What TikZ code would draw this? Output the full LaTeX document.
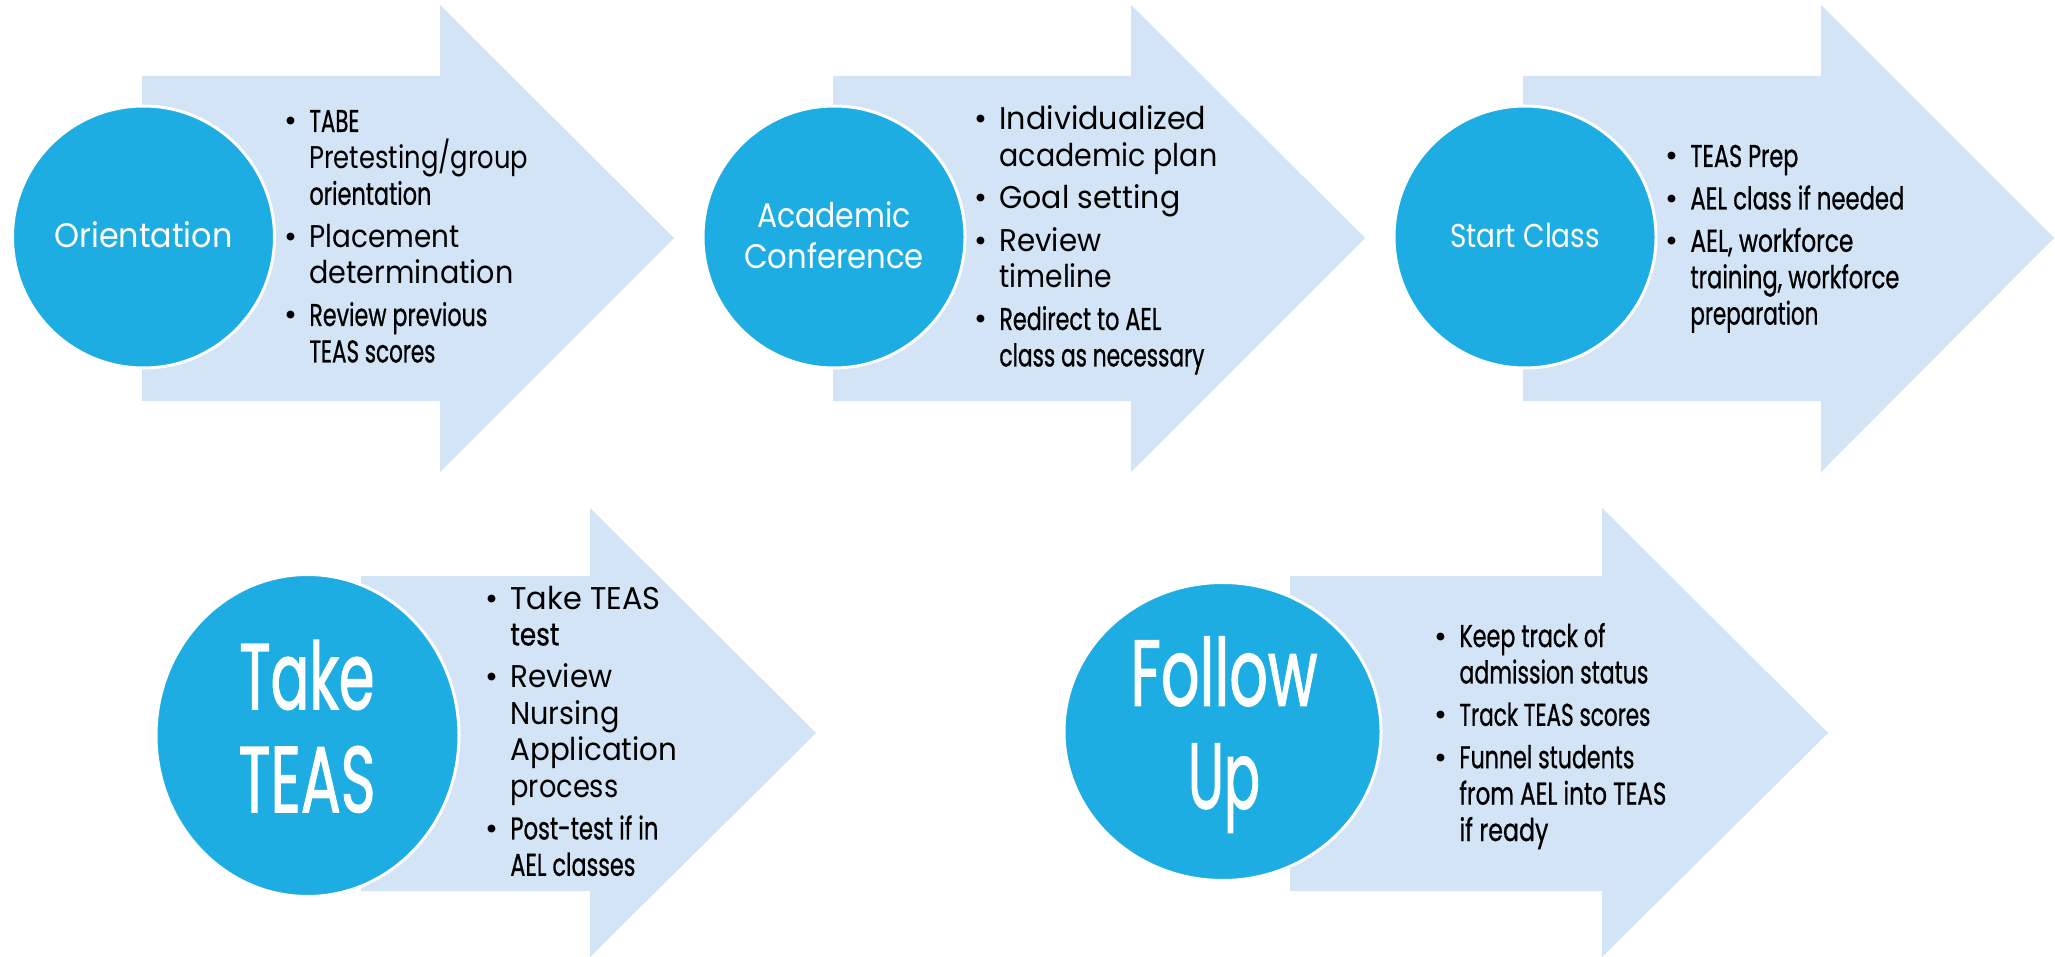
\documentclass[tikz,border=0pt]{standalone}
\usepackage{fontspec}
\setmainfont{Poppins}
\newfontfamily\cndf{Poppins}[FakeBold=0.9]
\newfontfamily\bigf{Poppins}[FakeBold=1.6]
\usepackage{graphicx}
\usetikzlibrary{shapes.geometric}
\definecolor{circ}{RGB}{30,173,226}
\definecolor{arr}{RGB}{210,228,245}
\newlength\pxu \setlength\pxu{0.5pt}
\newlength\bw \setlength\bw{12.5pt}
% regular line / condensed (heavier) line, fitted to a width in px
\newcommand\Fw[2]{\resizebox{#1\pxu}{\height}{#2}}
\newcommand\Fc[2]{\resizebox{#1\pxu}{\height}{\cndf #2}}
\newcommand\Fb[2]{\resizebox{#1\pxu}{\height}{\bigf #2}}
\newcommand\Bi[2]{\hbox{\makebox[\bw][l]{•}\Fw{#1}{#2}}}
\newcommand\Bc[2]{\hbox{\hspace*{\bw}\Fw{#1}{#2}}}
\newcommand\BI[2]{\hbox{\makebox[\bw][l]{•}\Fc{#1}{#2}}}
\newcommand\BC[2]{\hbox{\hspace*{\bw}\Fc{#1}{#2}}}
\newcommand\Gap{\vskip 3pt}
\newcommand\Blk[1]{\vtop{\fontsize{15.7pt}{18.2pt}\selectfont\baselineskip=18.2pt #1}}
\newcommand\Cl[2]{\hbox to 400\pxu{\hss\Fw{#1}{#2}\hss}}
\newcommand\CL[2]{\hbox to 400\pxu{\hss\Fb{#1}{#2}\hss}}
\begin{document}
\begin{tikzpicture}[x=0.5pt,y=-0.5pt,
  arrowshape/.style={fill=arr},
  disc/.style={ellipse, fill=circ, draw=white, line width=1.5pt, inner sep=0pt},
  lbl/.style={text=white, inner sep=0pt, anchor=base},
  blk/.style={text=black, inner sep=0pt, anchor=base west}]
\fill[white] (0,0) rectangle (2055,957);
\useasboundingbox (0,0) rectangle (2055,957);
% arrows
\fill[arrowshape] (142,76) -- (440,76) -- (440,5) -- (674,238) -- (440,472) -- (440,401) -- (142,401) -- cycle;
\fill[arrowshape] (833,76) -- (1131,76) -- (1131,5) -- (1365,238) -- (1131,472) -- (1131,401) -- (833,401) -- cycle;
\fill[arrowshape] (1523,76) -- (1821,76) -- (1821,5) -- (2054,238) -- (1821,472) -- (1821,401) -- (1523,401) -- cycle;
\fill[arrowshape] (361,576) -- (590,576) -- (590,508) -- (816,733) -- (590,957) -- (590,891) -- (361,891) -- cycle;
\fill[arrowshape] (1290,576) -- (1602,576) -- (1602,508) -- (1828,733) -- (1602,957) -- (1602,891) -- (1290,891) -- cycle;
% circles
\node[disc, minimum width=131pt, minimum height=131pt] (c1) at (143.5,237) {};
\node[disc, minimum width=131pt, minimum height=131pt] (c2) at (834,237) {};
\node[disc, minimum width=131pt, minimum height=131pt] (c3) at (1525,237) {};
\node[disc, minimum width=151.5pt, minimum height=161pt] (c4) at (307.5,735.5) {};
\node[disc, minimum width=158.5pt, minimum height=149pt] (c5) at (1222.5,731.5) {};
% circle labels
\node[lbl] (l1) at (143.5,248) {\fontsize{17pt}{20pt}\selectfont\Fw{178}{Orientation}};
\node[lbl] (l2) at (834,228) {\vtop{\fontsize{17pt}{20pt}\selectfont\baselineskip=20pt\Cl{154}{Academic}\Cl{180}{Conference}}};
\node[lbl] (l3) at (1525,248) {\fontsize{16.5pt}{20pt}\selectfont\Fw{150}{Start Class}};
\node[lbl] (l4) at (307,709) {\vtop{\fontsize{46.6pt}{51.5pt}\selectfont\baselineskip=51.5pt\CL{135}{Take}\CL{137}{TEAS}}};
\node[lbl] (l5) at (1224,705.5) {\vtop{\fontsize{46.6pt}{51.5pt}\selectfont\baselineskip=51.5pt\CL{187}{Follow}\CL{72}{Up}}};
% bullet blocks
\node[blk] (t1) at (284,132) {\Blk{%
\BI{50}{TABE}\Bc{219}{Pretesting/group}\BC{122}{orientation}\Gap
\Bi{150}{Placement}\Bc{204}{determination}\Gap
\BI{178}{Review previous}\BC{126}{TEAS scores}}};
\node[blk] (t2) at (974,130) {\Blk{%
\Bi{207}{Individualized}\Bc{218}{academic plan}\Gap
\Bi{181}{Goal setting}\Gap
\Bi{102}{Review}\Bc{113}{timeline}\Gap
\BI{162}{Redirect to AEL}\BC{205}{class as necessary}}};
\node[blk] (t3) at (1665,167) {\Blk{%
\BI{108}{TEAS Prep}\Gap
\BI{214}{AEL class if needed}\Gap
\BI{163}{AEL, workforce}\BC{209}{training, workforce}\BC{128}{preparation}}};
\node[blk] (t4) at (485,609) {\Blk{%
\Bi{150}{Take TEAS}\BC{49}{test}\Gap
\Bi{102}{Review}\Bc{109}{Nursing}\Bc{167}{Application}\Bc{108}{process}\Gap
\BI{148}{Post-test if in}\BC{125}{AEL classes}}};
\node[blk] (t5) at (1434,647) {\Blk{%
\BI{146}{Keep track of}\BC{189}{admission status}\Gap
\BI{191}{Track TEAS scores}\Gap
\BI{175}{Funnel students}\BC{207}{from AEL into TEAS}\BC{89}{if ready}}};
\end{tikzpicture}
\end{document}
